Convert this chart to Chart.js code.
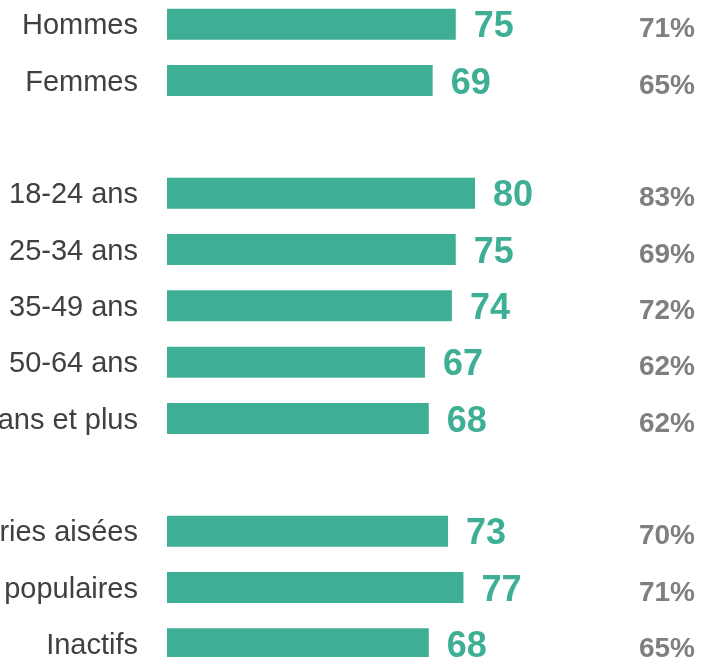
<!DOCTYPE html>
<html>
<head>
<meta charset="utf-8">
<script src="https://cdn.jsdelivr.net/npm/chart.js@4"></script>
<style>
  html, body { margin: 0; padding: 0; background: #fff; overflow: hidden; }
  #wrap { position: absolute; left: 0; top: -4px; width: 703px; height: 676px; }
</style>
</head>
<body>
<div id="wrap"><canvas id="chart"></canvas></div>
<script>
var categories = ["Hommes", "Femmes", "", "18-24 ans", "25-34 ans", "35-49 ans", "50-64 ans", "65 ans et plus", "", "Catégories aisées", "Catégories populaires", "Inactifs"]
var scores = [75, 69, null, 80, 75, 74, 67, 68, null, 73, 77, 68]
var shares = ["71%", "65%", "", "83%", "69%", "72%", "62%", "62%", "", "70%", "71%", "65%"]

var green = "#3eae94"
var grey = "#7f7f7f"
var fontFamily = "'Liberation Sans', Arial, sans-serif"

var valueLabels = {
  id: "valueLabels",
  afterDatasetsDraw: function(chart) {
    var ctx = chart.ctx
    var yScale = chart.scales.y
    var bars = chart.getDatasetMeta(0).data
    ctx.save()
    bars.forEach(function(bar, i) {
      if (scores[i] === null) return
      ctx.fillStyle = green
      ctx.font = "bold 36px " + fontFamily
      ctx.textAlign = "left"
      ctx.textBaseline = "alphabetic"
      ctx.fillText(scores[i], bar.x + 18, bar.y + 13)
    })
    shares.forEach(function(s, i) {
      if (!s) return
      var y = yScale.getPixelForValue(i)
      ctx.fillStyle = grey
      ctx.font = "bold 28px " + fontFamily
      ctx.textAlign = "right"
      ctx.fillText(s, 695, y + 13)
    })
    ctx.restore()
  }
}

new Chart(document.getElementById("chart"), {
  type: "bar",
  data: {
    labels: categories,
    datasets: [{
      data: scores,
      backgroundColor: green,
      barPercentage: 0.55,
      categoryPercentage: 1
    }]
  },
  options: {
    indexAxis: "y",
    responsive: true,
    maintainAspectRatio: false,
    animation: false,
    layout: { padding: { left: 0, right: 151, top: 0, bottom: 0 } },
    scales: {
      x: {
        display: false,
        min: 0,
        max: 100
      },
      y: {
        grid: { display: false, drawTicks: false },
        border: { display: false },
        ticks: {
          padding: 29,
          labelOffset: 2,
          color: "#404040",
          font: { family: fontFamily, size: 29 }
        },
        afterFit: function(scale) {
          scale.width = 167
          scale.paddingTop = 0
          scale.paddingBottom = 0
        }
      }
    },
    plugins: {
      legend: { display: false },
      tooltip: { enabled: false }
    }
  },
  plugins: [valueLabels]
})
</script>
</body>
</html>
